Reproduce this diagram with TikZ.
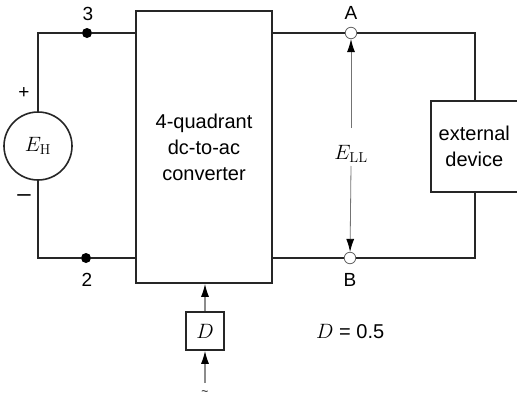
\documentclass[tikz,border=0pt]{standalone}
\usepackage[no-math]{fontspec}
\setmainfont{Liberation Sans}
\DeclareMathSizes{20.74}{20.74}{14.4}{12}
\usetikzlibrary{arrows.meta}
\tikzset{
 x=1pt,y=-1pt,
 wire/.style={draw=black!85,line width=1.5pt},
 box/.style={draw=black!85,line width=1.6pt,fill=white,inner sep=0pt,align=center,font=\fontsize{20}{26}\selectfont},
 lab/.style={inner sep=0pt,font=\fontsize{19}{22}\selectfont},
 mathlab/.style={inner sep=0pt,font=\fontsize{20.74}{22}\selectfont},
 soliddot/.style={circle,fill=black,inner sep=0pt,minimum size=10pt},
 opendot/.style={circle,draw=black!60,fill=white,line width=0.8pt,inner sep=0pt,minimum size=11.5pt},
 thin arrow/.style={draw=black!55,line width=0.8pt,-{Latex[black,length=13pt,width=8pt]}},
 ctrl arrow/.style={draw=black!45,line width=1.2pt,-{Latex[black,length=13pt,width=8pt]}},
}
\begin{document}
\begin{tikzpicture}
\useasboundingbox (0,0) rectangle (517,399);
\coordinate (tl) at (38,33);
\coordinate (bl) at (38,258);
\coordinate (tr) at (475,33);
\coordinate (br) at (475,258);
\coordinate (ctrlin) at (205,383);
\coordinate (ellup) at (351,128);
\coordinate (elldown) at (351,166);
\node[soliddot] (n3) at (87,33) {};
\node[soliddot] (n2) at (86,258) {};
\node[opendot] (na) at (351,33) {};
\node[opendot] (nb) at (350,258) {};
\node[box,minimum width=136pt,minimum height=272pt] (conv) at (204,147) {4-quadrant\\dc-to-ac\\converter};
\node[box,minimum width=87pt,minimum height=91pt,anchor=north west] (ext) at (430,100) {external\\device};
\node[box,circle,minimum size=68pt] (src) at (38,146) {};
\node[box,minimum width=38pt,minimum height=38pt] (dbox) at (205,331) {};
\node[mathlab] (ehlab) at (src.center) {$E_{\mathrm{H}}$};
\node[mathlab] (dlab) at (dbox.center) {$D$};
\draw[wire] (src.north) -- (tl) -- (n3) -- (n3 -| conv.west);
\draw[wire] (src.south) -- (bl) -- (n2) -- (n2 -| conv.west);
\draw[wire] (na -| conv.east) -- (na) -- (tr) -- (ext.north -| tr);
\draw[wire] (nb -| conv.east) -- (nb) -- (br) -- (ext.south -| br);
\node[mathlab] (ell) at (351,154) {$E_{\mathrm{LL}}$};
\draw[thin arrow] (ellup) -- (na);
\draw[thin arrow] (elldown) -- (nb);
\draw[ctrl arrow] (dbox.north) -- (conv.south -| dbox.north);
\draw[ctrl arrow] (ctrlin) -- (dbox.south);
\node[lab] at (88,14) {3};
\node[lab] at (87,280) {2};
\node[lab] at (351,13) {A};
\node[lab] at (350,280) {B};
\node[lab] at (24,93) {+};
\node[lab,font=\fontsize{24}{24}\selectfont] at (24,198) {–};
\node[lab] at (205,393) {\fontsize{12}{12}\selectfont\char`\~};
\node[mathlab,anchor=west] at (316,332) {$D$\fontsize{20}{22}\selectfont{} = 0.5};
\end{tikzpicture}
\end{document}
